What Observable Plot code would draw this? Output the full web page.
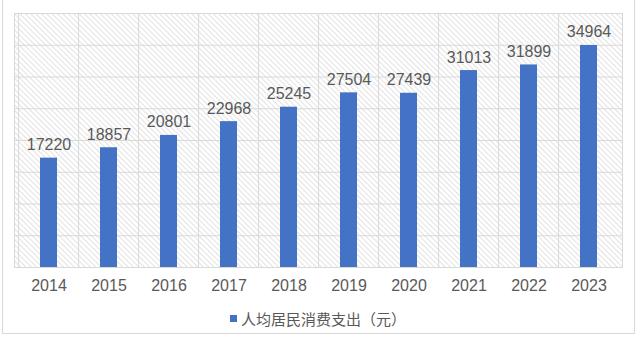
<!DOCTYPE html>
<html>
<head>
<meta charset="utf-8">
<script src="https://cdn.jsdelivr.net/npm/d3@7"></script>
<script src="https://cdn.jsdelivr.net/npm/@observablehq/plot@0.6"></script>
<style>
  html, body { margin: 0; padding: 0; background: #fff; }
  #wrap { position: relative; width: 640px; height: 338px; overflow: hidden; }
  #border { position: absolute; left: 2px; top: -2px; width: 633px; height: 336px; border: 1px solid #d9d9d9; box-sizing: border-box; pointer-events: none; }
  #legend { position: absolute; left: 0; top: 300px; width: 636px; height: 36px; display: flex; align-items: center; justify-content: center; font-family: "Noto Sans CJK SC", sans-serif; font-size: 15px; color: #595959; }
  #legend .sw { width: 7px; height: 7px; background: #4472C4; margin-right: 4px; }
</style>
</head>
<body>
<div id="wrap">
  <div id="chart"></div>
  <div id="legend"><span class="sw"></span><span id="legtext"></span></div>
  <div id="border"></div>
</div>
<script>
const years = ["2014", "2015", "2016", "2017", "2018", "2019", "2020", "2021", "2022", "2023"];
const values = [17220, 18857, 20801, 22968, 25245, 27504, 27439, 31013, 31899, 34964];
const yTicks = [0, 5000, 10000, 15000, 20000, 25000, 30000, 35000, 40000];
const seriesName = "人均居民消费支出（元）";

const data = years.map((y, i) => ({year: y, value: values[i]}));

const defs = () => {
  const d = d3.create("svg:defs");
  const s = 3.8;
  const p = d.append("pattern")
    .attr("id", "hatch")
    .attr("patternUnits", "userSpaceOnUse")
    .attr("width", s)
    .attr("height", s)
    .attr("patternTransform", "rotate(-45)");
  p.append("rect").attr("width", s).attr("height", s).attr("fill", "#fff");
  p.append("line").attr("x1", 0.5).attr("y1", 0).attr("x2", 0.5).attr("y2", s)
    .attr("stroke", "#e2e2e2").attr("stroke-width", 1);
  return d.node();
};

const W = 640, mL = 14, mR = 18;
const step = (W - mL - mR) / years.length;

const chart = Plot.plot({
  width: W,
  height: 300,
  marginLeft: mL,
  marginRight: mR,
  marginTop: 13,
  marginBottom: 33,
  style: {fontFamily: "'Liberation Sans', Arial, sans-serif", color: "#595959", background: "transparent"},
  x: {domain: years, paddingInner: 0.72, paddingOuter: 0.36, axis: null, label: null},
  y: {domain: [0, 40000], axis: null},
  marks: [
    defs,
    Plot.frame({fill: "url(#hatch)", stroke: "#d9d9d9"}),
    Plot.ruleY(yTicks, {stroke: "#d9d9d9", strokeWidth: 1}),
    Plot.ruleX(years, {x: d => d, dx: -step / 2, stroke: "#d9d9d9", strokeWidth: 1}),
    Plot.barY(data, {x: "year", y: "value", fill: "#4472C4"}),
    Plot.text(data, {x: "year", y: "value", text: d => String(d.value), lineAnchor: "bottom", dy: -8, fontSize: 16, fill: "#595959"}),
    Plot.axisX({tickSize: 0, tickPadding: 12, fontSize: 16, fill: "#595959", label: null})
  ]
});
document.getElementById("chart").appendChild(chart);
document.getElementById("legtext").textContent = seriesName;
</script>
</body>
</html>
